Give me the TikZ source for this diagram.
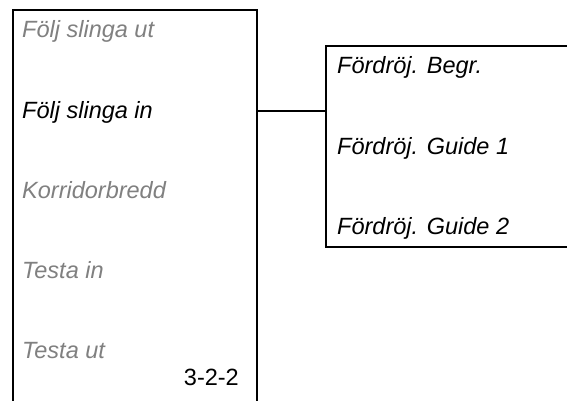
\documentclass[tikz,border=0pt]{standalone}
\usepackage{fontspec}
\setmainfont{Liberation Sans}
\definecolor{menugray}{RGB}{128,128,128}
\usepackage{tikz}
\usetikzlibrary{
  positioning,
  calc
}

\begin{document}
\begin{tikzpicture}[
  x=1pt, y=-1pt,
  panel/.style={
    draw=black, line width=2pt,
    rectangle, inner sep=0pt
  },
  item/.style={
    anchor=base west, inner sep=0pt,
    font=\fontsize{23.5}{27}\selectfont\itshape, text=menugray
  },
  active/.style={item, text=black},
  pagenum/.style={
    anchor=base east, inner sep=0pt,
    font=\fontsize{23.5}{27}\selectfont
  },
  link/.style={line width=1.5pt, draw=black}
]
\clip (0,0) rectangle (567,401);
\fill[white] (0,0) rectangle (567,401);

% left menu (open at the bottom)
\draw[panel] (13,430) |- (257,10) -- (257,430);
% sub menu (open to the right)
\draw[panel] (600,46) -| (326,247) -- (600,247);

\node[item]   (m1) at (22, 38)  {Följ slinga ut};
\node[active] (m2) at (22,118)  {Följ slinga in};
\node[item]   (m3) at (22,198)  {Korridorbredd};
\node[item]   (m4) at (22,278)  {Testa in};
\node[item]   (m5) at (22,358)  {Testa ut};
\node[pagenum] (pg) at (239,385) {3-2-2};

\node[active] (s1) at (337, 74) {Fördröj. Begr.};
\node[active] (s2) at (337,154) {Fördröj. Guide 1};
\node[active] (s3) at (337,234) {Fördröj. Guide 2};

\coordinate (menuR) at (257,111);
\coordinate (subL)  at (326,111);
\draw[link] (menuR) -- (subL);
\end{tikzpicture}
\end{document}
